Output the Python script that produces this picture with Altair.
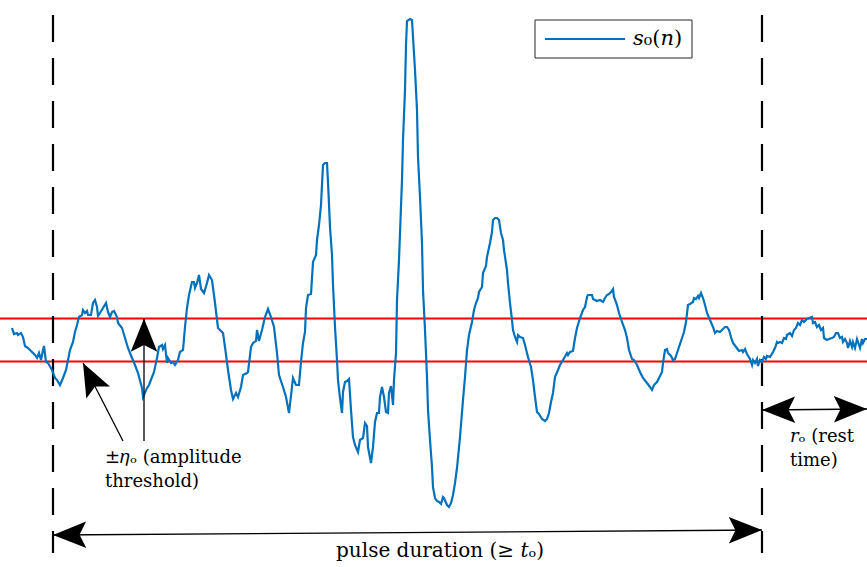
import math
import altair as alt
import pandas as pd

# ---- signal s0(n): sample index and amplitude ----
n = [0, 2, 5, 6, 9, 11, 13, 16, 20, 23, 25, 27, 29, 31, 32, 34, 36, 40, 43, 45,
     48, 51, 54, 56, 58, 61, 63, 65, 67, 70, 71, 73, 75, 76, 79, 81, 83, 85, 86, 88,
     91, 94, 96, 98, 100, 102, 105, 106, 110, 113, 116, 120, 123, 126, 130, 131, 135, 137, 142, 145,
     147, 150, 151, 153, 155, 156, 159, 161, 163, 166, 168, 171, 173, 175, 177, 180, 182, 183, 185, 187,
     189, 192, 195, 197, 200, 203, 206, 211, 213, 216, 219, 221, 224, 226, 229, 231, 235, 236, 239, 241,
     244, 245, 247, 250, 253, 256, 259, 262, 265, 267, 271, 274, 277, 281, 284, 287, 289, 291, 293, 294,
     296, 299, 300, 301, 304, 305, 307, 309, 311, 313, 315, 316, 318, 320, 321, 323, 325, 326, 328, 330,
     331, 333, 335, 337, 339, 341, 343, 346, 348, 351, 353, 355, 356, 359, 361, 363, 365, 367, 368, 370,
     372, 374, 376, 377, 379, 381, 382, 384, 385, 387, 390, 391, 393, 394, 395, 398, 400, 401, 403, 405,
     406, 408, 410, 411, 413, 415, 416, 418, 420, 421, 423, 425, 427, 429, 431, 432, 435, 437, 439, 441,
     443, 445, 448, 451, 453, 455, 457, 460, 462, 464, 466, 467, 470, 471, 474, 475, 478, 480, 481, 483,
     485, 487, 489, 491, 492, 495, 496, 498, 500, 501, 503, 505, 506, 508, 511, 513, 516, 519, 521, 523,
     525, 527, 530, 533, 535, 537, 539, 541, 543, 546, 548, 551, 555, 556, 558, 561, 563, 565, 568, 571,
     573, 575, 576, 580, 581, 585, 588, 591, 593, 595, 597, 599, 601, 602, 605, 607, 610, 613, 615, 617,
     620, 622, 625, 628, 631, 635, 638, 640, 642, 645, 647, 650, 651, 653, 655, 656, 659, 661, 663, 665,
     667, 670, 672, 674, 676, 678, 681, 682, 684, 686, 687, 689, 691, 693, 695, 698, 701, 703, 705, 708,
     711, 713, 715, 717, 719, 721, 724, 727, 730, 731, 733, 735, 738, 740, 741, 743, 745, 746, 748, 750,
     752, 754, 755, 758, 761, 763, 765, 766, 768, 770, 772, 774, 775, 778, 780, 782, 784, 786, 788, 790,
     792, 795, 797, 800, 801, 803, 805, 807, 809, 811, 812, 815, 817, 820, 822, 824, 826, 828, 830, 831,
     833, 835, 836, 838, 840, 841, 843, 845, 846, 848, 850, 851, 853, 855]
s = [12, 6, 7, 5, 7, 3, -6, -8, -12, -15, -18, -13, -20, -10, -6, -22, -23, -30, -38, -40,
     -45, -38, -30, -20, -10, -2, 8, 15, 23, 25, 30, 27, 29, 25, 25, 37, 40, 33, 24, 27,
     32, 37, 28, 23, 28, 29, 23, 17, 12, 2, -8, -18, -25, -33, -48, -57, -48, -45, -32, -18,
     -7, -5, -9, -5, -23, -18, -23, -22, -25, -20, -12, -10, 13, 32, 45, 58, 58, 52, 57, 65,
     51, 47, 57, 65, 60, 37, 12, 7, -7, -30, -50, -59, -53, -57, -47, -35, -33, -32, -7, -3,
     -1, 10, -1, 10, 23, 31, 23, 13, -13, -35, -47, -57, -73, -38, -45, -45, -22, -3, 8, 32,
     45, 46, 62, 78, 85, 100, 115, 135, 175, 177, 177, 158, 113, 85, 55, 13, -20, -40, -58, -73,
     -52, -42, -41, -39, -70, -97, -105, -112, -100, -98, -83, -86, -107, -123, -107, -82, -73, -73, -57, -47,
     -57, -72, -73, -53, -46, -65, -40, -13, 40, 80, 160, 200, 250, 295, 319, 321, 320, 303, 270, 230,
     183, 143, 97, 50, 10, -37, -70, -100, -127, -147, -158, -161, -162, -164, -157, -158, -165, -167, -163, -155,
     -143, -128, -97, -60, -37, -10, 5, 18, 30, 37, 42, 48, 53, 67, 74, 83, 97, 108, 120, 122,
     122, 120, 107, 100, 90, 70, 57, 37, 20, 10, 3, -2, 5, 3, 2, -5, -17, -27, -40, -57,
     -72, -74, -79, -81, -79, -73, -62, -53, -37, -30, -25, -20, -13, -15, -12, -11, 2, 12, 22, 30,
     33, 43, 45, 45, 41, 39, 40, 38, 42, 45, 46, 48, 51, 43, 35, 27, 18, 10, 2, -10,
     -19, -20, -25, -32, -38, -43, -47, -50, -45, -42, -38, -32, -23, -10, -9, -13, -16, -20, -19, -13,
     -7, 2, 8, 18, 35, 36, 38, 42, 41, 44, 42, 47, 42, 35, 27, 20, 13, 7, 9, 8,
     11, 13, 13, 10, 3, -3, -7, -11, -10, -12, -9, -14, -19, -25, -20, -23, -19, -26, -20, -22,
     -17, -19, -16, -17, -12, -8, -2, -3, -2, -3, 2, 1, 5, 7, 4, 10, 12, 17, 15, 20,
     18, 21, 22, 23, 17, 18, 13, 15, 10, 12, 2, 0, 1, 2, 3, 7, 7, 2, 3, -2,
     1, -3, -8, -1, -7, -2, -8, 1, -2, -8, 1, -3, 1, 1]

ETA = 21.5            # amplitude threshold +/- eta_o
PULSE_START = 41      # first sample of the pulse
PULSE_END = 750       # last sample of the pulse
REST_END = 855        # end of the rest interval

BLUE = "#0072BD"
RED = "#FF0000"
FONT = "DejaVu Serif"
FSIZE = 18

xs = alt.Scale(domain=[-12, 855], nice=False, zero=False)
ys = alt.Scale(domain=[-227, 340], nice=False, zero=False)


def X(field):
    return alt.X(field, type="quantitative", scale=xs, axis=None)


def Y(field):
    return alt.Y(field, type="quantitative", scale=ys, axis=None)


sig = pd.DataFrame({"n": n, "s": s})

signal = alt.Chart(sig).mark_line(color=BLUE, strokeWidth=2.2).encode(
    x=X("n"), y=Y("s"), order="n:Q"
)

# threshold lines at +/- eta across the full width
thr = alt.Chart(pd.DataFrame({"a": [ETA, -ETA]})).mark_rule(
    color=RED, strokeWidth=2
).encode(y=Y("a"))

# dashed pulse boundaries
bounds_df = pd.DataFrame({
    "n": [PULSE_START, PULSE_END],
    "top": [325, 325],
    "bot": [-213, -213],
})
bounds = alt.Chart(bounds_df).mark_rule(
    color="black", strokeWidth=2.2, strokeDash=[27, 16]
).encode(x=X("n"), y=Y("top"), y2="bot:Q")

# annotation arrows: shafts (tail -> tip)
arrows_df = pd.DataFrame({
    "x": [PULSE_START, PULSE_END, 111, 132],
    "y": [-195, -70, -101, -101],
    "x2": [PULSE_END, REST_END, 71, 132],
    "y2": [-190, -69, -23, ETA],
})
shafts = alt.Chart(arrows_df).mark_rule(color="black", strokeWidth=1.3).encode(
    x=X("x"), y=Y("y"), x2="x2:Q", y2="y2:Q"
)

# arrowheads: tip position plus direction it points to
heads = []
for x0, y0, x1, y1 in arrows_df[["x", "y", "x2", "y2"]].itertuples(index=False):
    heads.append((x1, y1, x1 - x0, y1 - y0))
# double-headed arrows also get a head at their tail
for x0, y0, x1, y1 in arrows_df[["x", "y", "x2", "y2"]].iloc[:2].itertuples(index=False):
    heads.append((x0, y0, x0 - x1, y0 - y1))
heads_df = pd.DataFrame({
    "x": [h[0] for h in heads],
    "y": [h[1] for h in heads],
    "ang": [math.degrees(math.atan2(-h[3], h[2])) % 360 for h in heads],
})
HEAD = "M0,0 L-2,-0.8 L-1.6,0 L-2,0.8 Z"
arrowheads = alt.Chart(heads_df).mark_point(
    shape=HEAD, size=1100, filled=True, color="black", opacity=1, strokeWidth=0
).encode(x=X("x"), y=Y("y"), angle=alt.Angle("ang:Q", scale=None))

# text annotations
left_txt = pd.DataFrame({
    "x": [93, 93, 778, 778],
    "y": [-118, -142, -97, -121],
    "t": ["±𝜂ₒ (amplitude", "threshold)", "𝑟ₒ (rest", "time)"],
})
left_labels = alt.Chart(left_txt).mark_text(
    font=FONT, fontSize=FSIZE, align="left", baseline="middle", color="black"
).encode(x=X("x"), y=Y("y"), text="t:N")

mid_txt = pd.DataFrame({"x": [428], "y": [-211], "t": ["pulse duration (≥ 𝑡ₒ)"]})
mid_labels = alt.Chart(mid_txt).mark_text(
    font=FONT, fontSize=20, align="center", baseline="middle", color="black"
).encode(x=X("x"), y=Y("y"), text="t:N")

# legend box
leg_box = alt.Chart(pd.DataFrame({"x": [523], "x2": [680], "y": [320], "y2": [282]})).mark_rect(
    fill="white", stroke="#262626", strokeWidth=1
).encode(x=X("x"), x2="x2:Q", y=Y("y"), y2="y2:Q")
leg_line = alt.Chart(pd.DataFrame({"x": [533], "x2": [613], "y": [301]})).mark_rule(
    color=BLUE, strokeWidth=2
).encode(x=X("x"), x2="x2:Q", y=Y("y"))
leg_text = alt.Chart(pd.DataFrame({"x": [621], "y": [301], "t": ["𝑠₀(𝑛)"]})).mark_text(
    font=FONT, fontSize=21, align="left", baseline="middle", color="black"
).encode(x=X("x"), y=Y("y"), text="t:N")

chart = alt.layer(
    thr, bounds, signal, shafts, arrowheads, left_labels, mid_labels,
    leg_box, leg_line, leg_text
).properties(
    width=867, height=567,
    autosize=alt.AutoSizeParams(type="none"),
    padding=0,
).configure_view(stroke=None)

chart.save("out.html", embed_options={"renderer": "svg", "actions": False})
